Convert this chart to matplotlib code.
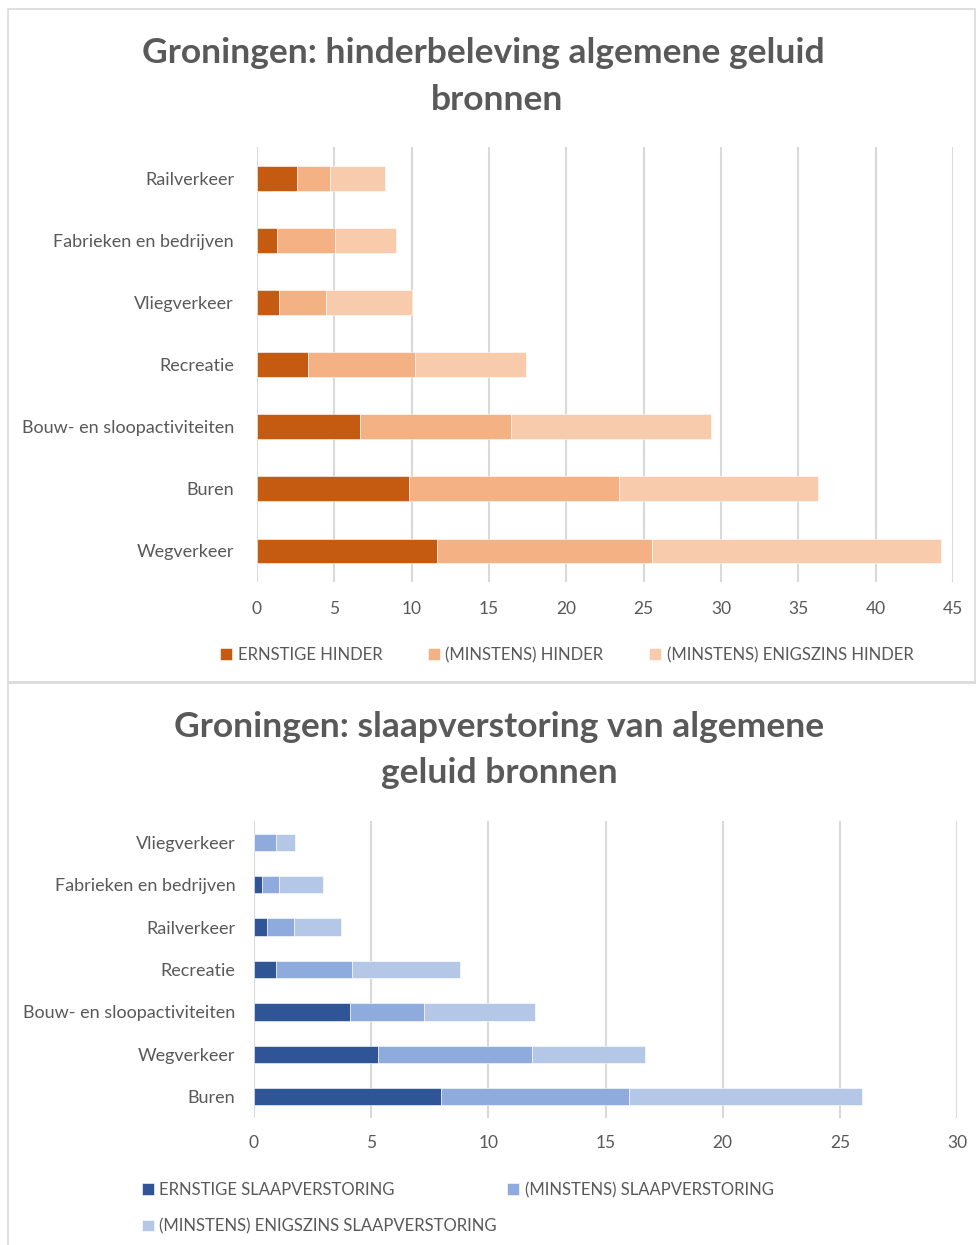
import matplotlib
matplotlib.use("Agg")
import numpy as np
import matplotlib.pyplot as plt
from matplotlib.patches import Rectangle

plt.rcParams['font.family'] = ['Lato', 'DejaVu Sans']

# ---- data: hinder (top chart), bottom-to-top order of categories
hinder_cats = ['Wegverkeer', 'Buren', 'Bouw- en sloopactiviteiten', 'Recreatie',
               'Vliegverkeer', 'Fabrieken en bedrijven', 'Railverkeer']
ernstige_hinder = [11.65, 9.85, 6.65, 3.3, 1.45, 1.3, 2.6]
minstens_hinder = [13.9, 13.55, 9.75, 6.9, 3.0, 3.75, 2.1]
enigszins_hinder = [18.7, 12.9, 12.95, 7.2, 5.6, 3.95, 3.6]
hinder_labels = ['ERNSTIGE HINDER', '(MINSTENS) HINDER', '(MINSTENS) ENIGSZINS HINDER']
hinder_title = ['Groningen: hinderbeleving algemene geluid', 'bronnen']

# ---- data: slaapverstoring (bottom chart)
slaap_cats = ['Buren', 'Wegverkeer', 'Bouw- en sloopactiviteiten', 'Recreatie',
              'Railverkeer', 'Fabrieken en bedrijven', 'Vliegverkeer']
ernstige_slaap = [7.96, 5.29, 4.09, 0.93, 0.54, 0.34, 0.0]
minstens_slaap = [8.04, 6.58, 3.18, 3.24, 1.15, 0.73, 0.96]
enigszins_slaap = [9.96, 4.8, 4.74, 4.63, 2.02, 1.87, 0.79]
slaap_labels = ['ERNSTIGE SLAAPVERSTORING', '(MINSTENS) SLAAPVERSTORING',
                '(MINSTENS) ENIGSZINS SLAAPVERSTORING']
slaap_title = ['Groningen: slaapverstoring van algemene', 'geluid bronnen']

orange = ['#C55A11', '#F4B183', '#F8CBAD']
blue = ['#2F5597', '#8FAADC', '#B4C7E7']
txt = '#595959'
grid = '#D9D9D9'

W, H = 976, 1245
fig = plt.figure(figsize=(W / 100, H / 100), dpi=100)


def px(x0, y0, x1, y1):
    # pixel box (top-left origin) -> figure axes rect
    return [x0 / W, 1 - y1 / H, (x1 - x0) / W, (y1 - y0) / H]


def stacked(ax, cats, series, colors, labels, xmax, step, bar_h):
    y = np.arange(len(cats))
    left = np.zeros(len(cats))
    for vals, c, lab in zip(series, colors, labels):
        ax.barh(y, vals, left=left, height=bar_h, color=c, label=lab,
                edgecolor='white', linewidth=0.4, zorder=3)
        left = left + np.array(vals)
    ax.set_xlim(0, xmax)
    ax.set_ylim(-0.5, len(cats) - 0.5)
    ax.set_xticks(np.arange(0, xmax + 0.1, step))
    ax.set_yticks(y)
    ax.set_yticklabels(cats)
    ax.grid(axis='x', color=grid, linewidth=1.5, zorder=0)
    for s in ax.spines.values():
        s.set_visible(False)
    ax.tick_params(length=0, labelsize=13, colors=txt)
    ax.tick_params(axis='x', labelsize=12.5, pad=14)


def title(lines, centers, ys):
    for s, xc, yc in zip(lines, centers, ys):
        fig.text(xc / W, 1 - yc / H, s, ha='center', va='center',
                 fontsize=25.5, fontweight='bold', color=txt)


# borders of the two chart boxes
fig.patches.append(Rectangle((8 / W, 1 - 682 / H), 967 / W, 673 / H,
                             transform=fig.transFigure, fill=False,
                             edgecolor=grid, linewidth=1.2))
fig.patches.append(Rectangle((8 / W, 1 - 1250 / H), 980 / W, 567 / H,
                             transform=fig.transFigure, fill=False,
                             edgecolor=grid, linewidth=1.2))

ax1 = fig.add_axes(px(257, 147, 953, 582))
stacked(ax1, hinder_cats, [ernstige_hinder, minstens_hinder, enigszins_hinder],
        orange, hinder_labels, 45, 5, 0.4)
ax1.tick_params(axis='y', pad=16.5)
title(hinder_title, [483, 497], [53, 100])
ax1.legend(loc='center left', bbox_to_anchor=(205 / W, 1 - 655 / H),
           bbox_transform=fig.transFigure, ncol=3, frameon=False,
           fontsize=12, labelcolor=txt, handlelength=0.7, handleheight=0.7,
           handletextpad=0.35, columnspacing=2.75)

ax2 = fig.add_axes(px(254, 821, 957, 1118))
stacked(ax2, slaap_cats, [ernstige_slaap, minstens_slaap, enigszins_slaap],
        blue, slaap_labels, 30, 5, 0.41)
ax2.tick_params(axis='y', pad=13.5)
ax2.tick_params(axis='x', pad=12)
title(slaap_title, [499, 499], [727, 773])
# row-major order for the two-column legend
h, l = ax2.get_legend_handles_labels()
order = [0, 2, 1]
ax2.legend([h[i] for i in order], [l[i] for i in order],
           loc='upper left', bbox_to_anchor=(127 / W, 1 - 1167 / H),
           bbox_transform=fig.transFigure, ncol=2, frameon=False,
           fontsize=12, labelcolor=txt, handlelength=0.7, handleheight=0.7,
           handletextpad=0.35, columnspacing=0.6, labelspacing=1.2)

fig.savefig('out.png', dpi=100, facecolor='white')
